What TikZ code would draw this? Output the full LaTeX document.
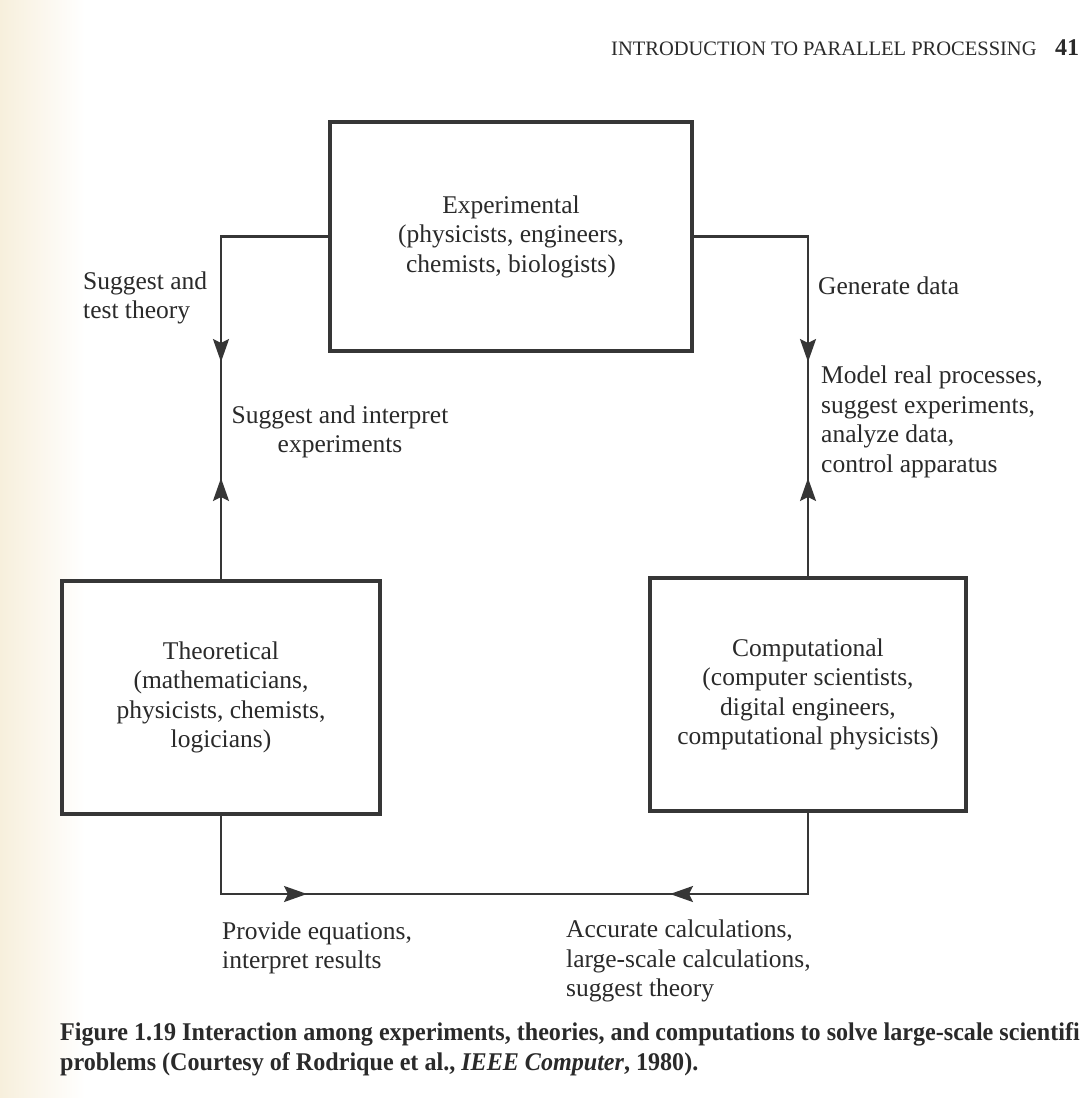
\documentclass[tikz,border=0pt]{standalone}
\usepackage{fontspec}
\setmainfont{Liberation Serif}
\newfontfamily\capfont[FakeStretch=0.945]{Liberation Serif}
\usetikzlibrary{arrows.meta,decorations.markings}
\definecolor{ink}{HTML}{2A2A2A}
\definecolor{linec}{HTML}{363636}
\definecolor{paper}{HTML}{F7EFDC}
\begin{document}
\begin{tikzpicture}[x=1pt,y=-1pt,
  box/.style={draw=linec, line width=3.5pt, align=center, text=ink, inner sep=0pt,
    font=\fontsize{25.5}{29.5}\selectfont},
  lbl/.style={align=left, text=ink, inner sep=0pt, font=\fontsize{25.5}{29.5}\selectfont},
  conn/.style={draw=linec, line width=2.2pt},
  tipA/.tip={Stealth[length=23pt,width=16pt,inset=4pt]}]
\path[use as bounding box, fill=white] (0,0) rectangle (1089,1098);
\shade[left color=paper, right color=white] (0,0) rectangle (85,1098);

% header
\node[anchor=base west, text=ink, inner sep=0pt, font=\fontsize{20.5}{24}\selectfont] (head) at (611,55) {INTRODUCTION TO PARALLEL PROCESSING};
\node[anchor=base west, text=ink, inner sep=0pt, font=\fontsize{24}{28}\selectfont\bfseries] (pnum) at (1055,55) {41};

% boxes
\node[box, minimum width=362pt, minimum height=229pt] (exp) at (511,236.5)
  {Experimental\\(physicists, engineers,\\chemists, biologists)};
\node[box, minimum width=318pt, minimum height=233pt] (theo) at (221,697.5)
  {Theoretical\\(mathematicians,\\physicists, chemists,\\logicians)};
\node[box, minimum width=316pt, minimum height=233pt] (comp) at (808,694.5)
  {Computational\\(computer scientists,\\digital engineers,\\computational physicists)};

% connectors
\draw[conn, postaction={decorate}, decoration={markings,
    mark=at position 232.75pt with {\arrow{tipA}},
    mark=at position 348.75pt with {\arrowreversed{tipA}}}]
  (exp.west) -| (theo.north);
\draw[conn, postaction={decorate}, decoration={markings,
    mark=at position 239.75pt with {\arrow{tipA}},
    mark=at position 355.75pt with {\arrowreversed{tipA}}}]
  (exp.east) -| (comp.north);
\coordinate (bl) at (221,894);
\draw[conn, postaction={decorate}, decoration={markings,
    mark=at position 164.25pt with {\arrow{tipA}},
    mark=at position 527.25pt with {\arrowreversed{tipA}}}]
  (theo.south) -- (bl) -| (comp.south);

% labels
\node[lbl, anchor=west] (l1) at (83,298) {Suggest and\\test theory};
\node[lbl, align=center] (l2) at (340,432) {Suggest and interpret\\experiments};
\node[lbl, anchor=west] (l3) at (818,286) {Generate data};
\node[lbl, anchor=west] (l4) at (821,422) {Model real processes,\\suggest experiments,\\analyze data,\\control apparatus};
\node[lbl, anchor=west] (l5) at (222,948) {Provide equations,\\interpret results};
\node[lbl, anchor=west] (l6) at (566,961) {Accurate calculations,\\large-scale calculations,\\suggest theory};

% caption
\node[anchor=base west, align=left, text=ink, inner sep=0pt, font=\capfont\bfseries\fontsize{25.5}{30}\selectfont] (cap) at (60,1070)
  {Figure 1.19 Interaction among experiments, theories, and computations to solve large-scale scientifi\\
   problems (Courtesy of Rodrique et al., \textit{IEEE Computer}, 1980).};
\end{tikzpicture}
\end{document}
